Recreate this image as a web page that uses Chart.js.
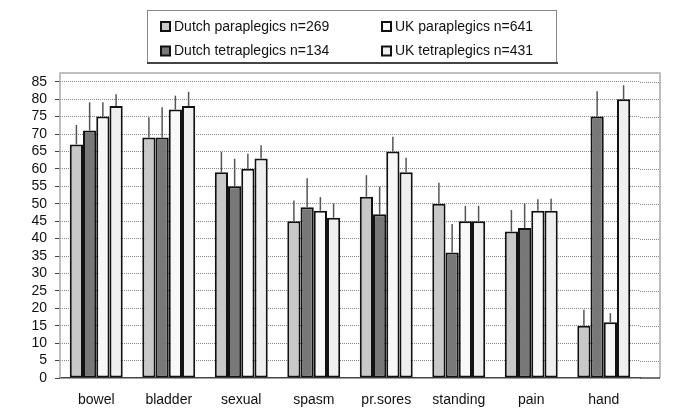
<!DOCTYPE html>
<html>
<head>
<meta charset="utf-8">
<script src="https://cdn.jsdelivr.net/npm/chart.js@4"></script>
<style>
  html, body { margin: 0; padding: 0; background: #fff; }
  #wrap { width: 681px; height: 410px; }
</style>
</head>
<body>
<div id="wrap"><canvas id="chart"></canvas></div>
<script>
const categories = ["bowel", "bladder", "sexual", "spasm", "pr.sores", "standing", "pain", "hand"];
const seriesNames = ["Dutch paraplegics n=269", "Dutch tetraplegics n=134", "UK paraplegics n=641", "UK tetraplegics n=431"];

// bar heights
const dutchPara  = [67, 69, 59, 45, 52, 50, 42, 15];
const dutchTetra = [71, 69, 55, 49, 47, 36, 43, 75];
const ukPara     = [75, 77, 60, 48, 65, 45, 48, 16];
const ukTetra    = [78, 78, 63, 46, 59, 45, 48, 80];

// top of the upper error whisker
const dutchParaErr  = [72.6, 74.8, 64.9, 50.9, 58.2, 56.0, 48.2, 19.6];
const dutchTetraErr = [79.1, 77.7, 62.9, 57.3, 54.9, 44.2, 50.1, 82.3];
const ukParaErr     = [79.1, 81.0, 64.3, 51.9, 69.2, 49.4, 51.3, 18.6];
const ukTetraErr    = [81.4, 82.1, 66.8, 50.1, 63.2, 49.4, 51.4, 84.0];

const yTicks = [0, 5, 10, 15, 20, 25, 30, 35, 40, 45, 50, 55, 60, 65, 70, 75, 80, 85];

const fills = ["#c8c8c8", "#787878", "#f8f8f8", "#efefef"];
const FONT = "'Liberation Sans', Arial, Helvetica, sans-serif";

// whiskers: thin line from bar top up to error value
const errorBars = {
  id: "errorBars",
  afterDatasetsDraw(chart) {
    const ctx = chart.ctx, y = chart.scales.y;
    ctx.save();
    ctx.strokeStyle = "#555";
    ctx.lineWidth = 1.5;
    chart.data.datasets.forEach((ds, i) => {
      chart.getDatasetMeta(i).data.forEach((bar, j) => {
        ctx.beginPath();
        ctx.moveTo(bar.x, bar.y);
        ctx.lineTo(bar.x, y.getPixelForValue(ds.errTop[j]));
        ctx.stroke();
      });
    });
    ctx.restore();
  }
};

// plot frame (extends a bit past the last category) and the boxed legend
const frameAndLegend = {
  id: "frameAndLegend",
  beforeDatasetsDraw(chart) {
    const ctx = chart.ctx, a = chart.chartArea, y = chart.scales.y;
    const ext = 20;
    ctx.save();
    ctx.strokeStyle = "#888";
    ctx.lineWidth = 1;
    ctx.setLineDash([1, 1]);
    y.ticks.forEach(t => {
      if (t.value === 0) return;
      const py = Math.round(y.getPixelForValue(t.value)) + 0.5;
      ctx.beginPath();
      ctx.moveTo(a.right, py);
      ctx.lineTo(a.right + ext, py);
      ctx.stroke();
    });
    ctx.setLineDash([]);
    ctx.strokeStyle = "#aaa";
    ctx.lineWidth = 1.5;
    ctx.beginPath();
    ctx.moveTo(a.left, a.bottom);
    ctx.lineTo(a.left, a.top);
    ctx.lineTo(a.right + ext, a.top);
    ctx.lineTo(a.right + ext, a.bottom);
    ctx.stroke();
    ctx.strokeStyle = "#444";
    ctx.beginPath();
    ctx.moveTo(a.right, a.bottom);
    ctx.lineTo(a.right + ext, a.bottom);
    ctx.stroke();
    ctx.restore();
  },
  afterDraw(chart) {
    const ctx = chart.ctx;
    ctx.save();
    ctx.strokeStyle = "#888";
    ctx.lineWidth = 1;
    ctx.strokeRect(147.5, 10.5, 409, 52);
    ctx.strokeStyle = "#444";
    ctx.lineWidth = 2;
    ctx.beginPath();
    ctx.moveTo(147, 63);
    ctx.lineTo(558, 63);
    ctx.stroke();
    // order: column 1 Dutch, column 2 UK
    const slots = [[161, 26.5], [161, 51], [382, 26.5], [382, 51]];
    ctx.font = "14px " + FONT;
    ctx.textBaseline = "middle";
    chart.data.datasets.forEach((ds, i) => {
      const [sx, sy] = slots[i];
      ctx.fillStyle = ds.backgroundColor;
      ctx.fillRect(sx, sy - 4.5, 9, 9);
      ctx.strokeStyle = "#111";
      ctx.lineWidth = 2;
      ctx.strokeRect(sx, sy - 4.5, 9, 9);
      ctx.fillStyle = "#111";
      ctx.fillText(ds.label, sx + 13, sy + 0.5);
    });
    ctx.restore();
  }
};

const seriesValues = [dutchPara, dutchTetra, ukPara, ukTetra];
const seriesErr = [dutchParaErr, dutchTetraErr, ukParaErr, ukTetraErr];

new Chart(document.getElementById("chart"), {
  type: "bar",
  data: {
    labels: categories,
    datasets: seriesNames.map((name, i) => ({
      label: name,
      data: seriesValues[i],
      errTop: seriesErr[i],
      backgroundColor: fills[i],
      borderColor: "#111",
      borderWidth: 2,
      borderSkipped: false,
      categoryPercentage: 0.73,
      barPercentage: 1.0
    }))
  },
  options: {
    responsive: true,
    maintainAspectRatio: false,
    animation: false,
    layout: { padding: { top: 73, right: 41, bottom: 0, left: 0 } },
    plugins: {
      legend: { display: false },
      tooltip: { enabled: false }
    },
    scales: {
      x: {
        grid: { display: false, drawTicks: false },
        border: { display: true, color: "#444", width: 1.5 },
        ticks: { color: "#111", font: { family: FONT, size: 14 }, padding: 14, maxRotation: 0 },
        afterFit: axis => { axis.height = 32; }
      },
      y: {
        min: 0,
        max: 87.5,
        afterBuildTicks: axis => { axis.ticks = yTicks.map(v => ({ value: v })); },
        grid: {
          color: ctx => ctx.tick && ctx.tick.value === 0 ? "rgba(0,0,0,0)" : "#888",
          lineWidth: 1,
          borderDash: [1, 1],
          tickColor: "#444",
          tickLength: 5,
          tickWidth: 1,
          tickBorderDash: []
        },
        border: { display: false, dash: [1, 1] },
        ticks: { color: "#111", font: { family: FONT, size: 14 }, padding: 8, autoSkip: false },
        afterFit: axis => { axis.width = 60; }
      }
    }
  },
  plugins: [frameAndLegend, errorBars]
});
</script>
</body>
</html>
